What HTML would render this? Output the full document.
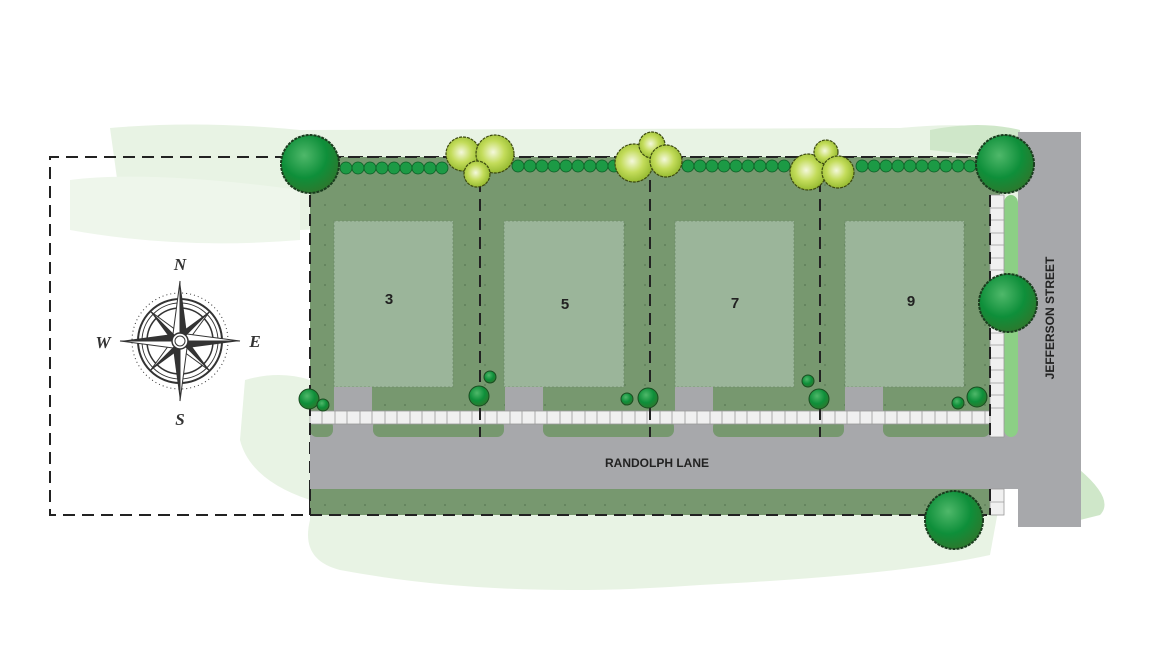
<!DOCTYPE html>
<html><head><style>body{margin:0;background:#fff}svg{display:block}</style></head><body>
<svg width="1170" height="671" viewBox="0 0 1170 671" xmlns="http://www.w3.org/2000/svg" font-family="Liberation Sans, sans-serif">
<defs>
<pattern id="dots" width="20" height="20" patternUnits="userSpaceOnUse"><circle cx="5" cy="5" r="1" fill="#5f7f5a"/></pattern>
<radialGradient id="tg" cx="40%" cy="35%" r="65%"><stop offset="0" stop-color="#4fb86a"/><stop offset="0.6" stop-color="#0e8f3a"/><stop offset="1" stop-color="#2a7a2e"/></radialGradient>
<radialGradient id="yg" cx="45%" cy="45%" r="60%"><stop offset="0" stop-color="#f4f8dc"/><stop offset="0.5" stop-color="#c3dc5a"/><stop offset="1" stop-color="#8fb52a"/></radialGradient>
</defs>
<!-- washes -->
<path d="M110 128 Q200 120 300 130 L900 128 Q980 120 1020 135 L1020 200 L300 230 Q200 240 120 200 Z" fill="#e8f3e4"/>
<path d="M70 180 Q150 170 300 190 L300 240 Q180 250 70 230Z" fill="#eef6eb"/>
<path d="M245 380 Q280 370 310 380 L310 520 Q300 560 340 570 Q500 600 700 585 Q900 575 990 555 L1000 500 L310 500 Q250 480 240 440Z" fill="#e8f3e4"/>
<path d="M1080 470 Q1115 500 1100 515 L1080 520Z" fill="#cfe7c9"/>
<path d="M930 130 Q980 120 1020 130 L1020 160 L930 150Z" fill="#cfe7c9"/>
<!-- dashed boundaries (under road) -->
<g fill="none" stroke="#222" stroke-width="2" stroke-dasharray="12 7">
<path d="M990 157H50V515H990"/>
<path d="M310 157V515"/>
</g>
<!-- lots -->
<rect x="310" y="157" width="690" height="280" fill="#77986f"/>
<rect x="310" y="157" width="690" height="280" fill="url(#dots)"/>
<rect x="310" y="489" width="690" height="26" fill="#77986f"/>
<rect x="310" y="489" width="690" height="26" fill="url(#dots)"/>
<!-- roads -->
<rect x="1018" y="132" width="63" height="395" fill="#a7a8ab"/>
<rect x="310" y="424" width="708" height="65" fill="#a7a8ab"/>
<rect x="1004" y="195" width="14" height="242" rx="8" fill="#8ccf85"/>
<g fill="#77986f">
<rect x="310" y="420" width="23" height="17" rx="7"/><rect x="373" y="420" width="131" height="17" rx="7"/><rect x="543" y="420" width="131" height="17" rx="7"/><rect x="713" y="420" width="131" height="17" rx="7"/><rect x="883" y="420" width="107" height="17" rx="7"/>
</g>
<!-- pads -->
<g fill="#9bb59a" stroke="#6d8a68" stroke-dasharray="2 2" stroke-width="0.8">
<rect x="334" y="221" width="119" height="166"/><rect x="504" y="221" width="120" height="166"/><rect x="675" y="221" width="119" height="166"/><rect x="845" y="221" width="119" height="166"/>
</g>
<g fill="#a7a8ab"><rect x="334" y="387" width="38" height="24"/><rect x="505" y="387" width="38" height="24"/><rect x="675" y="387" width="38" height="24"/><rect x="845" y="387" width="38" height="24"/></g>
<!-- sidewalks -->
<rect x="310" y="411" width="694" height="13" fill="#f0f0f0" stroke="#999" stroke-width="0.8"/>
<rect x="990" y="195" width="14" height="242" fill="#f0f0f0" stroke="#999" stroke-width="0.8"/>
<rect x="990" y="489" width="14" height="26" fill="#f0f0f0" stroke="#999" stroke-width="0.8"/>
<path d="M322 411V424M335 411V424M347 411V424M360 411V424M372 411V424M385 411V424M397 411V424M410 411V424M422 411V424M435 411V424M447 411V424M460 411V424M472 411V424M485 411V424M497 411V424M510 411V424M522 411V424M535 411V424M547 411V424M560 411V424M572 411V424M585 411V424M597 411V424M610 411V424M622 411V424M635 411V424M647 411V424M660 411V424M672 411V424M685 411V424M697 411V424M710 411V424M722 411V424M735 411V424M747 411V424M760 411V424M772 411V424M785 411V424M797 411V424M810 411V424M822 411V424M835 411V424M847 411V424M860 411V424M872 411V424M885 411V424M897 411V424M910 411V424M922 411V424M935 411V424M947 411V424M960 411V424M972 411V424M985 411V424M990 208H1004M990 220H1004M990 233H1004M990 245H1004M990 258H1004M990 270H1004M990 283H1004M990 295H1004M990 308H1004M990 320H1004M990 333H1004M990 345H1004M990 358H1004M990 370H1004M990 383H1004M990 395H1004M990 408H1004M990 502H1004" stroke="#999" stroke-width="0.8"/>
<g fill="none" stroke="#222" stroke-width="2" stroke-dasharray="12 7">
<path d="M480 180V437M650 180V437M820 180V437M990 195V437M990 489V515M310 157V437M310 489V515M310 157H990M310 515H990"/>
</g>
<!-- hedge -->
<g fill="#1c9a45" stroke="#0d5e25" stroke-width="0.8">
<circle cx="346" cy="168" r="6"/><circle cx="358" cy="168" r="6"/><circle cx="370" cy="168" r="6"/><circle cx="382" cy="168" r="6"/><circle cx="394" cy="168" r="6"/><circle cx="406" cy="168" r="6"/><circle cx="418" cy="168" r="6"/><circle cx="430" cy="168" r="6"/><circle cx="442" cy="168" r="6"/>
<circle cx="518" cy="166" r="6"/><circle cx="530" cy="166" r="6"/><circle cx="542" cy="166" r="6"/><circle cx="554" cy="166" r="6"/><circle cx="566" cy="166" r="6"/><circle cx="578" cy="166" r="6"/><circle cx="590" cy="166" r="6"/><circle cx="602" cy="166" r="6"/><circle cx="614" cy="166" r="6"/>
<circle cx="688" cy="166" r="6"/><circle cx="700" cy="166" r="6"/><circle cx="712" cy="166" r="6"/><circle cx="724" cy="166" r="6"/><circle cx="736" cy="166" r="6"/><circle cx="748" cy="166" r="6"/><circle cx="760" cy="166" r="6"/><circle cx="772" cy="166" r="6"/><circle cx="784" cy="166" r="6"/>
<circle cx="862" cy="166" r="6"/><circle cx="874" cy="166" r="6"/><circle cx="886" cy="166" r="6"/><circle cx="898" cy="166" r="6"/><circle cx="910" cy="166" r="6"/><circle cx="922" cy="166" r="6"/><circle cx="934" cy="166" r="6"/><circle cx="946" cy="166" r="6"/><circle cx="958" cy="166" r="6"/><circle cx="970" cy="166" r="6"/>
</g>
<!-- small shrubs -->
<g fill="url(#tg)" stroke="#1a4d20" stroke-width="1">
<circle cx="309" cy="399" r="10"/><circle cx="323" cy="405" r="6"/><circle cx="490" cy="377" r="6"/><circle cx="479" cy="396" r="10"/>
<circle cx="627" cy="399" r="6"/><circle cx="648" cy="398" r="10"/><circle cx="808" cy="381" r="6"/><circle cx="819" cy="399" r="10"/>
<circle cx="958" cy="403" r="6"/><circle cx="977" cy="397" r="10"/>
</g>
<!-- big trees -->
<g fill="url(#tg)" stroke="#1a3d1e" stroke-width="2" stroke-dasharray="3 1">
<circle cx="310" cy="164" r="29"/><circle cx="1005" cy="164" r="29"/><circle cx="1008" cy="303" r="29"/><circle cx="954" cy="520" r="29"/>
</g>
<!-- yellow trees -->
<g fill="url(#yg)" stroke="#3d4a10" stroke-width="1.2" stroke-dasharray="3 1">
<circle cx="463" cy="154" r="17"/><circle cx="495" cy="154" r="19"/><circle cx="477" cy="174" r="13"/>
<circle cx="634" cy="163" r="19"/><circle cx="652" cy="145" r="13"/><circle cx="666" cy="161" r="16"/>
<circle cx="808" cy="172" r="18"/><circle cx="826" cy="152" r="12"/><circle cx="838" cy="172" r="16"/>
</g>
<!-- labels -->
<g font-weight="bold" fill="#222" font-size="15" text-anchor="middle">
<text x="389" y="304">3</text><text x="565" y="309">5</text><text x="735" y="308">7</text><text x="911" y="306">9</text>
</g>
<text x="657" y="467" font-size="12" font-weight="bold" fill="#222" text-anchor="middle">RANDOLPH LANE</text>
<text transform="translate(1054 318) rotate(-90)" font-size="12" font-weight="bold" fill="#222" text-anchor="middle">JEFFERSON STREET</text>
<!-- compass -->
<g transform="translate(180 341)">
<circle r="48" fill="none" stroke="#333" stroke-width="1" stroke-dasharray="1 3"/>
<circle r="42" fill="none" stroke="#333" stroke-width="2"/>
<circle r="38" fill="none" stroke="#333" stroke-width="1"/>
<circle r="33" fill="none" stroke="#333" stroke-width="1.5"/>
<g fill="#fff" stroke="#333" stroke-width="1">
<path d="M0 0L30 -30L8 0Z" /><path d="M0 0L30 30L0 8Z"/><path d="M0 0L-30 30L-8 0Z"/><path d="M0 0L-30 -30L0 -8Z"/>
</g>
<g fill="#333"><path d="M0 0L30 -30L0 -8Z"/><path d="M0 0L30 30L8 0Z"/><path d="M0 0L-30 30L0 8Z"/><path d="M0 0L-30 -30L-8 0Z"/></g>
<g fill="#fff" stroke="#333" stroke-width="1">
<path d="M0 -60L-7 -7L0 0Z"/><path d="M60 0L7 -7L0 0Z"/><path d="M0 60L7 7L0 0Z"/><path d="M-60 0L-7 7L0 0Z"/>
</g>
<g fill="#333"><path d="M0 -60L7 -7L0 0Z"/><path d="M60 0L7 7L0 0Z"/><path d="M0 60L-7 7L0 0Z"/><path d="M-60 0L-7 -7L0 0Z"/></g>
<circle r="8" fill="#fff" stroke="#333" stroke-width="1.5"/><circle r="5" fill="none" stroke="#333"/>
<g font-family="Liberation Serif, serif" font-style="italic" font-weight="bold" font-size="17" fill="#333" text-anchor="middle">
<text x="0" y="-71">N</text><text x="0" y="84">S</text><text x="75" y="6">E</text><text x="-77" y="7">W</text>
</g>
</g>
</svg>
</body></html>
